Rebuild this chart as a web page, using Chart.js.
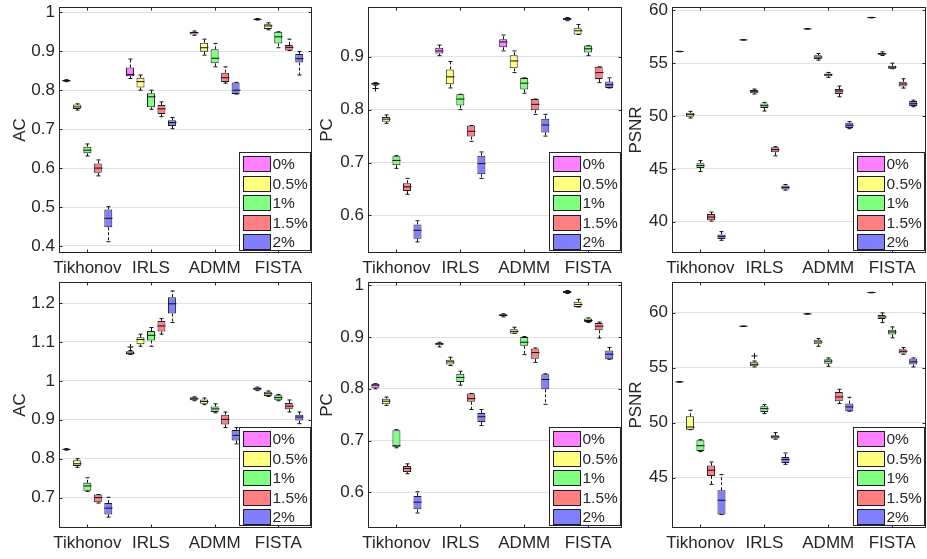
<!DOCTYPE html>
<html>
<head>
<meta charset="utf-8">
<script src="https://cdn.jsdelivr.net/npm/chart.js@4.4.0/dist/chart.umd.min.js"></script>
<style>
  html, body { margin: 0; padding: 0; background: #fff; overflow: hidden; }
  #fig { position: relative; width: 927px; height: 559px; overflow: hidden; }
  #fig canvas { position: absolute; }
</style>
</head>
<body>
<div id="fig"></div>
<script>
const methods = ['Tikhonov', 'IRLS', 'ADMM', 'FISTA'];
const noiseLevels = ['0%', '0.5%', '1%', '1.5%', '2%'];

// each box: [lower whisker, Q1, median, Q3, upper whisker]
// outer index = method, inner index = noise level
const acTop = [
  [[0.822,0.823,0.824,0.826,0.827],[0.749,0.752,0.757,0.763,0.765],[0.631,0.638,0.646,0.655,0.662],[0.580,0.588,0.600,0.612,0.621],[0.411,0.448,0.471,0.494,0.501]],
  [[0.830,0.836,0.840,0.858,0.880],[0.800,0.807,0.822,0.832,0.839],[0.751,0.756,0.783,0.792,0.800],[0.732,0.739,0.752,0.762,0.770],[0.701,0.708,0.717,0.723,0.730]],
  [[0.941,0.943,0.948,0.950,0.952],[0.890,0.899,0.909,0.922,0.931],[0.860,0.869,0.882,0.905,0.920],[0.818,0.821,0.832,0.845,0.860],[0.790,0.790,0.800,0.820,0.820]],
  [[0.980,0.981,0.982,0.983,0.984],[0.955,0.957,0.965,0.969,0.973],[0.909,0.920,0.937,0.950,0.950],[0.902,0.902,0.910,0.916,0.931],[0.839,0.871,0.881,0.893,0.899]]
];
const pcTop = [
  [[0.846,0.847,0.849,0.851,0.851],[0.774,0.777,0.782,0.786,0.790],[0.689,0.695,0.704,0.712,0.713],[0.640,0.646,0.654,0.661,0.670],[0.550,0.556,0.572,0.583,0.590]],
  [[0.902,0.906,0.911,0.917,0.922],[0.841,0.848,0.862,0.876,0.891],[0.800,0.808,0.820,0.829,0.829],[0.740,0.749,0.759,0.770,0.770],[0.670,0.678,0.698,0.713,0.720]],
  [[0.911,0.918,0.928,0.933,0.941],[0.870,0.878,0.892,0.903,0.911],[0.831,0.838,0.850,0.860,0.860],[0.791,0.799,0.810,0.820,0.820],[0.750,0.757,0.771,0.783,0.791]],
  [[0.968,0.969,0.971,0.973,0.974],[0.942,0.942,0.949,0.954,0.961],[0.902,0.908,0.915,0.921,0.921],[0.851,0.858,0.870,0.881,0.881],[0.841,0.841,0.847,0.853,0.860]]
];
const psnrTop = [
  [[56.08,56.08,56.10,56.12,56.12],[49.81,49.94,50.13,50.31,50.44],[44.75,45.09,45.31,45.53,45.78],[40.06,40.13,40.44,40.72,40.91],[38.24,38.36,38.62,38.80,39.06]],
  [[57.18,57.18,57.20,57.22,57.22],[52.08,52.14,52.30,52.45,52.55],[50.47,50.75,50.97,51.19,51.29],[46.23,46.57,46.82,47.04,47.10],[42.99,43.05,43.24,43.43,43.52]],
  [[58.22,58.22,58.24,58.26,58.26],[55.28,55.38,55.57,55.75,55.91],[53.65,53.77,53.90,54.03,54.12],[51.82,52.08,52.36,52.55,52.83],[48.80,48.87,49.12,49.37,49.47]],
  [[59.29,59.29,59.31,59.33,59.33],[55.72,55.79,55.88,55.97,56.07],[54.47,54.47,54.62,54.75,55.00],[52.64,52.80,53.02,53.24,53.52],[50.88,50.94,51.16,51.41,51.50]]
];
const acBot = [
  [[0.822,0.823,0.824,0.825,0.826],[0.778,0.781,0.787,0.796,0.800],[0.716,0.718,0.730,0.738,0.751],[0.686,0.688,0.700,0.708,0.708],[0.650,0.657,0.673,0.686,0.701]],
  [[1.068,1.068,1.071,1.076,1.078],[1.089,1.094,1.106,1.112,1.120],[1.089,1.104,1.117,1.128,1.137],[1.120,1.127,1.141,1.154,1.160],[1.150,1.173,1.198,1.215,1.231]],
  [[0.949,0.950,0.954,0.958,0.959],[0.939,0.941,0.947,0.952,0.956],[0.918,0.920,0.928,0.934,0.941],[0.880,0.888,0.901,0.913,0.920],[0.838,0.847,0.860,0.874,0.880]],
  [[0.975,0.976,0.980,0.983,0.984],[0.960,0.961,0.967,0.972,0.974],[0.949,0.950,0.957,0.963,0.965],[0.920,0.927,0.935,0.943,0.951],[0.890,0.898,0.907,0.913,0.920]]
];
const pcBot = [
  [[0.800,0.802,0.807,0.810,0.810],[0.768,0.770,0.776,0.781,0.784],[0.686,0.688,0.690,0.720,0.721],[0.636,0.639,0.646,0.651,0.655],[0.560,0.567,0.581,0.593,0.601]],
  [[0.881,0.884,0.887,0.889,0.890],[0.845,0.847,0.852,0.856,0.861],[0.807,0.813,0.822,0.829,0.834],[0.760,0.775,0.781,0.791,0.791],[0.729,0.736,0.746,0.753,0.760]],
  [[0.939,0.940,0.942,0.944,0.945],[0.907,0.907,0.911,0.915,0.919],[0.866,0.883,0.890,0.900,0.901],[0.851,0.858,0.870,0.878,0.879],[0.770,0.799,0.818,0.828,0.829]],
  [[0.984,0.985,0.987,0.989,0.990],[0.958,0.958,0.963,0.968,0.973],[0.928,0.929,0.932,0.936,0.937],[0.898,0.913,0.921,0.927,0.929],[0.857,0.857,0.867,0.874,0.880]]
];
const psnrBot = [
  [[53.68,53.68,53.70,53.72,53.72],[49.36,49.36,49.60,50.58,51.12],[47.36,47.42,47.90,48.39,48.45],[44.39,45.15,45.67,46.09,46.42],[41.64,41.64,42.94,43.85,45.27]],
  [[58.74,58.74,58.76,58.78,58.78],[55.06,55.12,55.30,55.52,55.60],[50.82,50.97,51.27,51.48,51.64],[48.49,48.55,48.70,48.85,49.09],[46.21,46.33,46.64,46.88,47.24]],
  [[59.86,59.86,59.88,59.90,59.90],[56.94,57.12,57.33,57.52,57.64],[55.12,55.36,55.58,55.76,55.88],[51.73,51.94,52.33,52.79,53.03],[51.03,51.03,51.42,51.73,52.30]],
  [[61.80,61.80,61.82,61.84,61.84],[59.09,59.42,59.60,59.79,59.97],[57.70,58.00,58.24,58.45,58.70],[56.21,56.27,56.48,56.67,56.82],[55.06,55.27,55.52,55.82,55.88]]
];

// outliers: [method index, noise index, value]
const pcTopOut = [[0, 0, 0.840]];
const acBotOut = [[1, 0, 1.087]];
const psnrBotOut = [[1, 1, 56.06]];

const noiseColors = ['#ff80ff', '#ffff80', '#80ff80', '#ff8080', '#8080ff'];
const textColor = '#262626';
const fontFam = '"Liberation Sans", Arial, Helvetica, sans-serif';

const panels = [
  { stats: acTop,   out: [],         label: 'AC',   yMin: 0.382, yMax: 1.0136, step: 0.1, left: 59,  top: 7,   w: 253, tpad: 9.8 },
  { stats: pcTop,   out: pcTopOut,   label: 'PC',   yMin: 0.529, yMax: 0.994,  step: 0.1, left: 368, top: 7,   w: 254, tpad: 7.8 },
  { stats: psnrTop, out: [],         label: 'PSNR', yMin: 37.04, yMax: 60.31,  step: 5,   left: 672, top: 7,   w: 254, tpad: 12.8 },
  { stats: acBot,   out: acBotOut,   label: 'AC',   yMin: 0.622, yMax: 1.254,  step: 0.1, left: 59,  top: 282, w: 253, tpad: 9.8 },
  { stats: pcBot,   out: [],         label: 'PC',   yMin: 0.531, yMax: 1.0064, step: 0.1, left: 368, top: 282, w: 254, tpad: 7.8 },
  { stats: psnrBot, out: psnrBotOut, label: 'PSNR', yMin: 40.42, yMax: 62.78,  step: 5,   left: 672, top: 282, w: 254, tpad: 12.8 }
];

const AXIS_W = 59, AXIS_H = 26, PAD_T = 7, PAD_R = 3, AREA_H = 246;

function makePanel(p) {
  const cv = document.createElement('canvas');
  cv.width = AXIS_W + p.w + PAD_R;
  cv.height = PAD_T + AREA_H + AXIS_H;
  cv.style.left = (p.left - AXIS_W) + 'px';
  cv.style.top = (p.top - PAD_T) + 'px';
  document.getElementById('fig').appendChild(cv);

  const datasets = noiseLevels.map((lvl, n) => ({
    label: lvl,
    data: methods.map((m, i) => ({ x: i + 1, y: [p.stats[i][n][1], p.stats[i][n][3]] })),
    backgroundColor: noiseColors[n],
    borderColor: '#1c1c2a',
    borderWidth: 1,
    borderSkipped: false,
    categoryPercentage: 0.824,
    barPercentage: 0.76
  }));

  // whiskers, medians and outliers on top of the boxes
  const boxParts = {
    id: 'boxParts',
    afterDatasetsDraw(chart) {
      const ctx = chart.ctx, ys = chart.scales.y;
      ctx.save();
      ctx.strokeStyle = '#111';
      ctx.lineWidth = 1;
      noiseLevels.forEach((lvl, n) => {
        chart.getDatasetMeta(n).data.forEach((bar, i) => {
          const s = p.stats[i][n];
          const x = Math.round(bar.x) + 0.5, hw = bar.width / 2;
          const py = s.map(v => ys.getPixelForValue(v));
          ctx.setLineDash([3, 2]);
          ctx.beginPath();
          if (py[3] - py[4] > 0.5) { ctx.moveTo(x, py[3]); ctx.lineTo(x, py[4]); }
          if (py[0] - py[1] > 0.5) { ctx.moveTo(x, py[1]); ctx.lineTo(x, py[0]); }
          ctx.stroke();
          ctx.setLineDash([]);
          ctx.beginPath();
          ctx.moveTo(x - hw / 2, py[4]); ctx.lineTo(x + hw / 2, py[4]);
          ctx.moveTo(x - hw / 2, py[0]); ctx.lineTo(x + hw / 2, py[0]);
          ctx.moveTo(x - hw, py[2]); ctx.lineTo(x + hw, py[2]);
          ctx.stroke();
        });
      });
      p.out.forEach(([i, n, v]) => {
        const bar = chart.getDatasetMeta(n).data[i];
        const x = Math.round(bar.x) + 0.5, y = ys.getPixelForValue(v);
        ctx.beginPath();
        ctx.moveTo(x - 3, y); ctx.lineTo(x + 3, y);
        ctx.moveTo(x, y - 3); ctx.lineTo(x, y + 3);
        ctx.stroke();
      });
      ctx.restore();
    }
  };

  // matlab style box with inward ticks, and the legend in the lower right
  const frameAndLegend = {
    id: 'frameAndLegend',
    afterDraw(chart) {
      const ctx = chart.ctx, a = chart.chartArea;
      const xs = chart.scales.x, ys = chart.scales.y;
      const L = Math.round(a.left) + 0.5, R = Math.round(a.right) - 0.5;
      const T = Math.round(a.top) + 0.5, B = Math.round(a.bottom) - 0.5;
      ctx.save();
      ctx.strokeStyle = textColor;
      ctx.lineWidth = 1;
      ctx.strokeRect(L, T, R - L, B - T);
      ctx.beginPath();
      ys.ticks.forEach(t => {
        const y = Math.round(ys.getPixelForValue(t.value)) + 0.5;
        ctx.moveTo(L, y); ctx.lineTo(L + 3, y);
        ctx.moveTo(R, y); ctx.lineTo(R - 3, y);
      });
      xs.ticks.forEach(t => {
        const x = Math.round(xs.getPixelForValue(t.value)) + 0.5;
        ctx.moveTo(x, B); ctx.lineTo(x, B - 3);
        ctx.moveTo(x, T); ctx.lineTo(x, T + 3);
      });
      ctx.stroke();

      const lw = 71, lh = 98;
      const lx = Math.round(a.right - 2 - lw) + 0.5, ly = Math.round(a.bottom - 3 - lh) + 0.5;
      ctx.fillStyle = '#fff';
      ctx.fillRect(lx, ly, lw, lh);
      ctx.strokeStyle = textColor;
      ctx.strokeRect(lx, ly, lw, lh);
      ctx.font = '15.5px ' + fontFam;
      ctx.textBaseline = 'middle';
      noiseLevels.forEach((lvl, n) => {
        const cy = ly + 11.3 + n * 19.5;
        ctx.fillStyle = noiseColors[n];
        ctx.fillRect(lx + 4, Math.round(cy - 7.5), 27, 15);
        ctx.strokeStyle = '#1c1c2a';
        ctx.strokeRect(lx + 4, Math.round(cy - 7.5) + 0.5, 27, 15);
        ctx.fillStyle = textColor;
        ctx.fillText(lvl, lx + 33, cy + 1);
      });
      ctx.restore();
    }
  };

  new Chart(cv, {
    type: 'bar',
    data: { datasets },
    options: {
      responsive: false,
      animation: false,
      devicePixelRatio: 1,
      events: [],
      layout: { padding: { left: 0, top: PAD_T, right: PAD_R, bottom: 0 } },
      plugins: { legend: { display: false }, tooltip: { enabled: false } },
      scales: {
        x: {
          type: 'linear',
          min: 0.555,
          max: 4.53,
          offset: false,
          grid: { display: false, drawTicks: false, offset: false },
          border: { display: false },
          afterBuildTicks: s => { s.ticks = methods.map((m, i) => ({ value: i + 1 })); },
          afterFit: s => {
            s.height = AXIS_H;
            s.paddingLeft = 0; s.paddingRight = 0; s.paddingTop = 0; s.paddingBottom = 0;
          },
          ticks: {
            autoSkip: false,
            maxRotation: 0,
            padding: 5,
            color: textColor,
            font: { family: fontFam, size: 17 },
            callback: v => methods[Math.round(v) - 1]
          }
        },
        y: {
          type: 'linear',
          min: p.yMin,
          max: p.yMax,
          beginAtZero: false,
          grid: { color: '#e2e2e2', drawTicks: false },
          border: { display: false },
          afterFit: s => {
            s.width = AXIS_W;
            s.paddingLeft = 0; s.paddingRight = 0; s.paddingTop = 0; s.paddingBottom = 0;
          },
          ticks: {
            stepSize: p.step,
            includeBounds: false,
            padding: 4,
            color: textColor,
            font: { family: fontFam, size: 17 },
            callback: v => String(+v.toFixed(3))
          },
          title: {
            display: true,
            text: p.label,
            color: textColor,
            font: { family: fontFam, size: 17 },
            padding: { top: p.tpad, bottom: 0 }
          }
        }
      }
    },
    plugins: [boxParts, frameAndLegend]
  });
}

panels.forEach(makePanel);
</script>
</body>
</html>
